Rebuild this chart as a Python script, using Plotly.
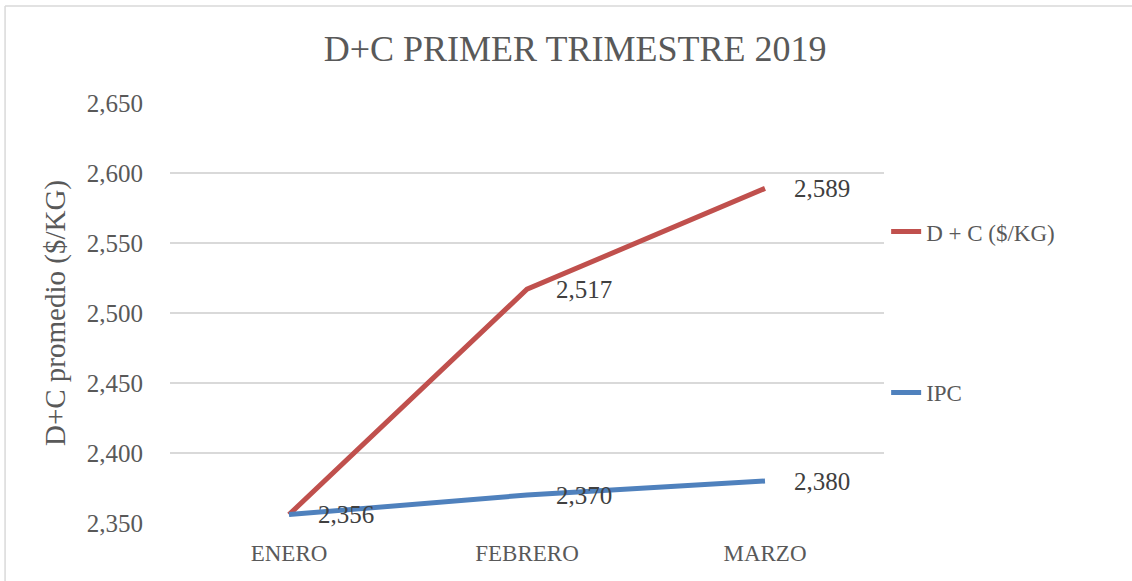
import plotly.graph_objects as go

# chart data
meses = ["ENERO", "FEBRERO", "MARZO"]
dc_kg = [2356, 2517, 2589]
ipc = [2356, 2370, 2380]
y_ticks = [2350, 2400, 2450, 2500, 2550, 2600, 2650]

series = [
    ("D + C ($/KG)", dc_kg, "#C0504D"),
    ("IPC", ipc, "#4F81BD"),
]

FONT = "Liberation Serif, Times New Roman, serif"
GRAY = "#595959"

fig = go.Figure()
for name, vals, color in series:
    fig.add_trace(
        go.Scatter(
            x=meses,
            y=vals,
            mode="lines",
            name=name,
            legendgroup=name,
            line=dict(color=color, width=5),
            hoverinfo="skip",
        )
    )

# data labels to the right of each point; skip duplicates (both start at 2,356)
seen = set()
for name, vals, color in series:
    for m, v in zip(meses, vals):
        if (m, v) in seen:
            continue
        seen.add((m, v))
        fig.add_annotation(
            x=m,
            y=v,
            text=f"{v:,}",
            showarrow=False,
            xanchor="left",
            yanchor="middle",
            xshift=27,
            font=dict(family=FONT, size=25, color="#404040"),
        )

# outer chart border (only top and left edges are visible in the crop)
border = dict(color="#D9D9D9", width=1.5)
fig.add_shape(type="line", xref="paper", yref="paper",
              x0=-0.231, x1=1.35, y0=1.231, y1=1.231, line=border)
fig.add_shape(type="line", xref="paper", yref="paper",
              x0=-0.231, x1=-0.231, y0=1.231, y1=-0.2, line=border)

fig.update_layout(
    width=1132,
    height=581,
    margin=dict(l=170, r=248, t=103, b=58),
    paper_bgcolor="white",
    plot_bgcolor="white",
    font=dict(family=FONT, color=GRAY),
    title=dict(
        text="D+C PRIMER TRIMESTRE 2019",
        x=0.508,
        xanchor="center",
        y=0.916,
        yanchor="middle",
        font=dict(family=FONT, size=36, color=GRAY),
    ),
    showlegend=True,
    legend=dict(
        x=1.003,
        xanchor="left",
        y=0.745,
        yanchor="top",
        traceorder="grouped",
        tracegroupgap=128,
        font=dict(family=FONT, size=23, color=GRAY),
        bgcolor="rgba(0,0,0,0)",
    ),
    xaxis=dict(
        type="category",
        range=[-0.5, 2.5],
        showgrid=False,
        showline=False,
        zeroline=False,
        ticks="",
        ticklabelstandoff=14,
        tickfont=dict(family=FONT, size=23, color=GRAY),
        fixedrange=True,
    ),
    yaxis=dict(
        range=[2350, 2650],
        tickvals=y_ticks,
        tickformat=",d",
        showgrid=True,
        gridcolor="#D9D9D9",
        gridwidth=1.5,
        zeroline=False,
        showline=False,
        ticks="",
        ticklabelstandoff=26,
        tickfont=dict(family=FONT, size=25, color=GRAY),
        title=dict(
            text="D+C promedio ($/KG)",
            standoff=12,
            font=dict(family=FONT, size=29, color=GRAY),
        ),
        fixedrange=True,
    ),
)

# drop the default body margin so the figure sits at the window origin
fig.write_html(
    "out.html",
    config={"displayModeBar": False},
    post_script="document.body.style.margin='0';",
)
